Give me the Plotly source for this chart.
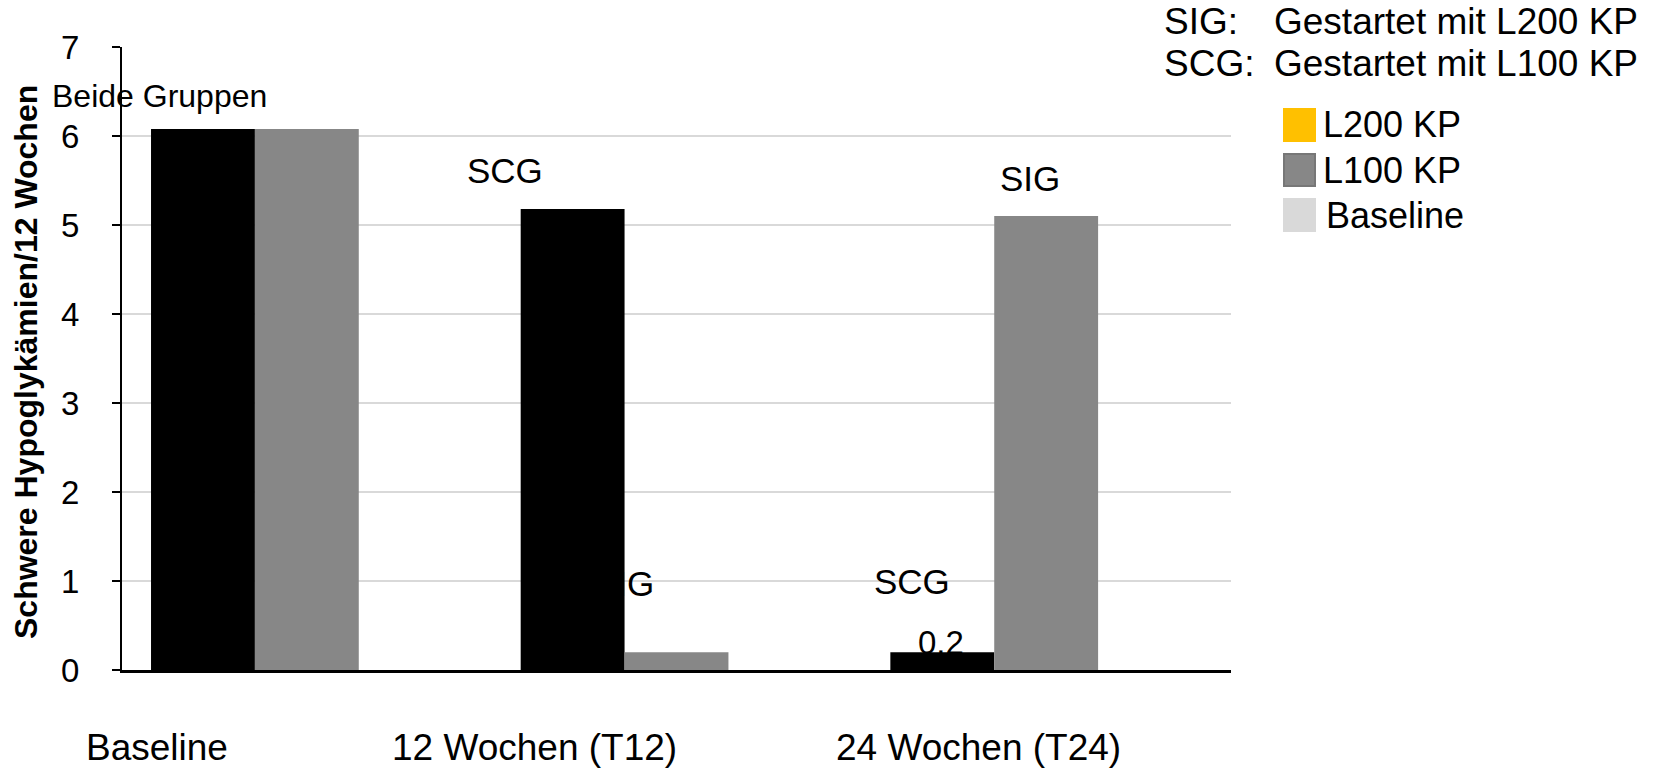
import plotly.graph_objects as go

# Data
categories = ["Baseline", "12 Wochen (T12)", "24 Wochen (T24)"]
l200_values = [6.08, 5.18, 0.2]
l100_values = [6.08, 0.2, 5.1]
baseline_values = [0, 0, 0]
y_ticks = [0, 1, 2, 3, 4, 5, 6, 7]

W, H = 1658, 769
L, R, T, B = 122, 1231, 47, 670  # plot area in pixels
FONT = "Liberation Sans, Arial, sans-serif"


def px(x):
    return (x - L) / (R - L)


def py(y):
    return (B - y) / (B - T)


fig = go.Figure()
fig.add_trace(go.Bar(x=categories, y=l200_values, name="L200 KP",
                     marker=dict(color="#000000", line=dict(width=0)), showlegend=False))
fig.add_trace(go.Bar(x=categories, y=l100_values, name="L100 KP",
                     marker=dict(color="#878787", line=dict(width=0)), showlegend=False))
fig.add_trace(go.Bar(x=categories, y=baseline_values, name="Baseline",
                     marker=dict(color="#D9D9D9", line=dict(width=0)), showlegend=False))

annotations = []


def text(t, x, y, size, xanchor="center", bold=False, angle=0):
    annotations.append(dict(
        text=f"<b>{t}</b>" if bold else t, x=px(x), y=py(y), xref="paper", yref="paper",
        xanchor=xanchor, yanchor="middle", showarrow=False, textangle=angle,
        font=dict(family=FONT, size=size, color="#000000")))


# Category labels below the axis
text(categories[0], 157, 747, 37)
text(categories[1], 534, 747, 37)
text(categories[2], 978, 747, 37)

# Group labels
text("Beide Gruppen", 159, 96, 32)
text("SCG", 505, 170, 35)
text("SIG", 624, 583, 35)
text("SCG", 912, 581, 35)
text("0.2", 941, 642, 33)
text("SIG", 1030, 178, 35)

# Group explanation
text("SIG:", 1162, 22, 37, xanchor="left")
text("Gestartet mit L200 KP", 1272, 22, 37, xanchor="left")
text("SCG:", 1162, 63, 37, xanchor="left")
text("Gestartet mit L100 KP", 1272, 63, 37, xanchor="left")

# Legend
legend_items = [("L200 KP", "#FFC000", "#FFC000", 125, 1321),
                ("L100 KP", "#878787", "#777777", 170, 1321),
                ("Baseline", "#D9D9D9", "#D9D9D9", 215, 1324)]
shapes = []
for name, fill, edge, yc, xt in legend_items:
    shapes.append(dict(type="rect", xref="paper", yref="paper",
                       x0=px(1284), x1=px(1315), y0=py(yc - 16), y1=py(yc + 16),
                       fillcolor=fill, line=dict(color=edge, width=2)))
    text(name, xt, yc, 36, xanchor="left")

# Axis title
annotations.append(dict(
    text="<b>Schwere Hypoglykämien/12 Wochen</b>", x=px(26), y=py(362),
    xref="paper", yref="paper", xanchor="center", yanchor="middle",
    showarrow=False, textangle=-90,
    font=dict(family=FONT, size=32, color="#000000")))

fig.update_layout(
    width=W, height=H,
    margin=dict(l=L, r=W - R, t=T, b=H - B, pad=0),
    paper_bgcolor="white", plot_bgcolor="white",
    barmode="group", bargap=0.157, bargroupgap=0,
    showlegend=False,
    annotations=annotations, shapes=shapes,
    font=dict(family=FONT, color="#000000"),
)
fig.update_xaxes(showticklabels=False, ticks="", showgrid=False,
                 showline=True, linecolor="#000000", linewidth=3, zeroline=False)
fig.update_yaxes(range=[0, 7], tickvals=y_ticks, ticks="outside", ticklen=8,
                 tickwidth=2, tickcolor="#000000", showline=True, linecolor="#000000",
                 linewidth=2, showgrid=True, gridcolor="#D9D9D9", gridwidth=2,
                 zeroline=False, ticklabelstandoff=26,
                 tickfont=dict(family=FONT, size=33, color="#000000"))

fig.write_html("out.html")
